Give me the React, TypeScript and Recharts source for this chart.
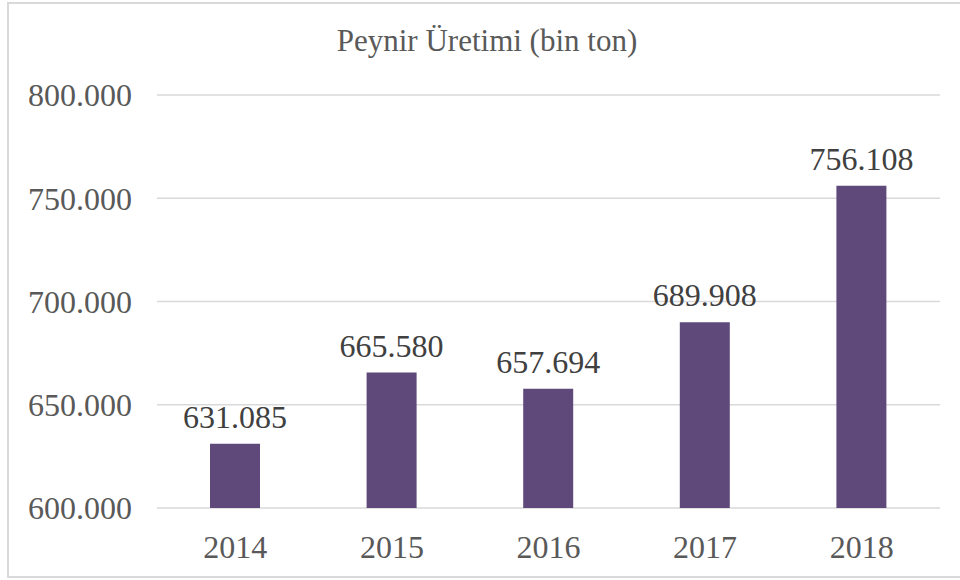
import React from 'react'
import { BarChart, Bar, XAxis, YAxis, CartesianGrid, LabelList } from 'recharts'

const years = ['2014', '2015', '2016', '2017', '2018']
const production = [631085, 665580, 657694, 689908, 756108]
const yTicks = [600000, 650000, 700000, 750000, 800000]

const data = years.map((year, i) => ({ year, value: production[i] }))

// 631085 -> "631.085"
const fmt = (v: number) => String(Math.round(v)).replace(/\B(?=(\d{3})+(?!\d))/g, '.')

const FONT = '"Liberation Serif", "DejaVu Serif"'

export default function App() {
  return (
    <div style={{ position: 'absolute', left: 0, top: 0, width: 960, height: 580, background: '#fff', overflow: 'hidden' }}>
      <div
        style={{
          position: 'absolute',
          left: 7,
          top: 2,
          width: 980,
          height: 576,
          border: '2px solid #d9d9d9',
          boxSizing: 'border-box',
        }}
      />
      <div
        style={{
          position: 'absolute',
          left: 0,
          top: 23,
          width: 974,
          textAlign: 'center',
          fontFamily: FONT,
          fontSize: 31,
          lineHeight: '36px',
          color: '#595959',
        }}
      >
        Peynir Üretimi (bin ton)
      </div>
      <BarChart
        width={960}
        height={580}
        data={data}
        margin={{ top: 95, right: 20, bottom: 0, left: 0 }}
        style={{ position: 'absolute', left: 0, top: 0 }}
      >
        <CartesianGrid vertical={false} stroke="#d9d9d9" strokeWidth={1.5} />
        <XAxis
          dataKey="year"
          height={72}
          axisLine={false}
          tickLine={false}
          tickSize={0}
          tickMargin={27}
          tick={{ fill: '#595959', fontSize: 32, fontFamily: FONT }}
        />
        <YAxis
          width={157}
          domain={[600000, 800000]}
          ticks={yTicks}
          interval={0}
          axisLine={false}
          tickLine={false}
          tickSize={0}
          tickMargin={25}
          tickFormatter={fmt}
          tick={{ fill: '#595959', fontSize: 32, fontFamily: FONT }}
        />
        <Bar dataKey="value" fill="#5f497a" barSize={50} isAnimationActive={false}>
          <LabelList
            dataKey="value"
            position="top"
            offset={16}
            formatter={(v: any) => fmt(Number(v))}
            style={{ fill: '#404040', fontSize: 32, fontFamily: FONT }}
          />
        </Bar>
      </BarChart>
    </div>
  )
}
